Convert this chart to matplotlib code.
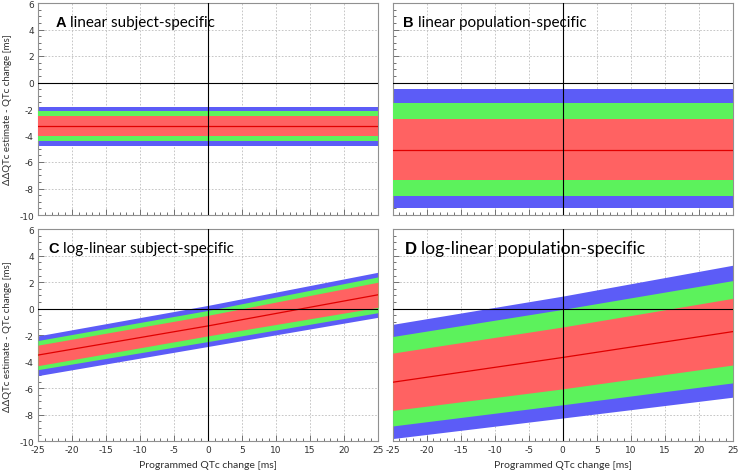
import matplotlib.pyplot as plt
from matplotlib.ticker import MultipleLocator

plt.rcParams['axes.unicode_minus'] = False

x_flat = [-25, 25]
x_slope = [-25, 0, 25]

# A linear subject-specific
a_blue_hi = [-1.83, -1.83]
a_green_hi = [-2.18, -2.18]
a_red_hi = [-2.55, -2.55]
a_mid = [-3.3, -3.3]
a_red_lo = [-4.07, -4.07]
a_green_lo = [-4.45, -4.45]
a_blue_lo = [-4.8, -4.8]

# B linear population-specific
b_blue_hi = [-0.5, -0.5]
b_green_hi = [-1.55, -1.55]
b_red_hi = [-2.75, -2.75]
b_mid = [-5.1, -5.1]
b_red_lo = [-7.35, -7.35]
b_green_lo = [-8.55, -8.55]
b_blue_lo = [-9.5, -9.5]

# C log-linear subject-specific
c_blue_hi = [-2.05, 0.25, 2.75]
c_green_hi = [-2.4, -0.13, 2.4]
c_red_hi = [-2.75, -0.5, 2.0]
c_mid = [-3.5, -1.3, 1.05]
c_red_lo = [-4.3, -2.05, 0.1]
c_green_lo = [-4.6, -2.48, -0.3]
c_blue_lo = [-5.05, -2.85, -0.65]

# D log-linear population-specific
d_blue_hi = [-1.18, 0.95, 3.28]
d_green_hi = [-2.1, -0.05, 2.12]
d_red_hi = [-3.35, -1.38, 0.78]
d_mid = [-5.55, -3.68, -1.73]
d_red_lo = [-7.68, -6.05, -4.25]
d_green_lo = [-8.85, -7.25, -5.6]
d_blue_lo = [-9.8, -8.25, -6.68]

letters = ['A', 'B', 'C', 'D']
titles = ['linear subject-specific', 'linear population-specific',
          'log-linear subject-specific', 'log-linear population-specific']

blue = '#5c5cf7'
green = '#5cf25c'
red = '#ff6262'
line_red = '#e00000'

panels = [
    (x_flat, a_blue_hi, a_green_hi, a_red_hi, a_mid, a_red_lo, a_green_lo, a_blue_lo),
    (x_flat, b_blue_hi, b_green_hi, b_red_hi, b_mid, b_red_lo, b_green_lo, b_blue_lo),
    (x_slope, c_blue_hi, c_green_hi, c_red_hi, c_mid, c_red_lo, c_green_lo, c_blue_lo),
    (x_slope, d_blue_hi, d_green_hi, d_red_hi, d_mid, d_red_lo, d_green_lo, d_blue_lo),
]

W, H = 738, 477
fig = plt.figure(figsize=(W / 100, H / 100), dpi=100)

boxes = [
    (38, 4, 340, 212),
    (392.7, 4, 340, 212),
    (38, 230.2, 340, 212),
    (392.7, 230.2, 340, 212),
]
# title placement (data x, data y of bottom, font size)
title_pos = [(-22.4, 4.05, 11), (-23.5, 4.05, 11), (-23.5, 4.05, 11), (-23.2, 3.95, 12.6)]

for i, (x, bh, gh, rh, mid, rl, gl, bl) in enumerate(panels):
    l, t, w, h = boxes[i]
    ax = fig.add_axes([l / W, 1 - (t + h) / H, w / W, h / H])
    ax.fill_between(x, bl, bh, color=blue, lw=0, zorder=2)
    ax.fill_between(x, gl, gh, color=green, lw=0, zorder=3)
    ax.fill_between(x, rl, rh, color=red, lw=0, zorder=4)
    ax.plot(x, mid, color=line_red, lw=0.9, zorder=5)
    ax.axhline(0, color='black', lw=0.8, zorder=6)
    ax.axvline(0, color='black', lw=0.8, zorder=6)

    ax.set_xlim(-25, 25)
    ax.set_ylim(-10, 6)
    ax.xaxis.set_major_locator(MultipleLocator(5))
    ax.xaxis.set_minor_locator(MultipleLocator(1))
    ax.yaxis.set_major_locator(MultipleLocator(2))
    ax.yaxis.set_minor_locator(MultipleLocator(0.5))
    ax.grid(True, which='major', color='#bdbdbd', ls=(0, (2, 2)), lw=0.6, zorder=1)
    ax.set_axisbelow(True)
    ax.tick_params(which='both', direction='in', color='#707070',
                   labelsize=6.5, labelcolor='#303030', pad=3)
    ax.tick_params(which='major', length=4, width=0.7)
    ax.tick_params(which='minor', length=2.5, width=0.7)
    for s in ax.spines.values():
        s.set_color('#909090')
        s.set_linewidth(0.8)

    if i < 2:
        ax.tick_params(labelbottom=False)
    else:
        ax.set_xlabel('Programmed QTc change [ms]', fontsize=7.5, family='Lato',
                      color='#303030', labelpad=4)
    if i % 2 == 1:
        ax.tick_params(labelleft=False)
    else:
        ax.set_ylabel('\u0394\u0394QTc estimate - QTc change [ms]', fontsize=7,
                      family='Lato', color='#303030', labelpad=5)

    tx, ty, fs = title_pos[i]
    lab = ax.text(tx, ty, letters[i], fontsize=fs - 0.5, fontweight='bold',
                  family='Liberation Sans', va='bottom', ha='left', zorder=7)
    ax.annotate(titles[i], xy=(1, 0), xycoords=lab, xytext=(3, 0),
                textcoords='offset points', va='bottom', ha='left',
                fontsize=fs, family='Lato', zorder=7)

fig.savefig('out.png', dpi=100)
